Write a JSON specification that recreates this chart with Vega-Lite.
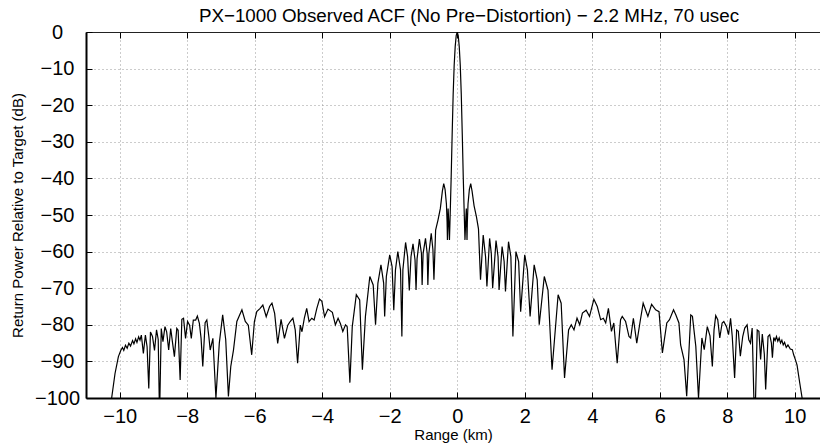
{
  "$schema": "https://vega.github.io/schema/vega-lite/v6.json",
  "width": 734,
  "height": 366,
  "autosize": "none",
  "padding": {"left": 86, "top": 32, "right": 0, "bottom": 48},
  "background": "white",
  "config": {"view": {"stroke": null}, "font": "Liberation Sans"},
  "title": {"text": "PX−1000 Observed ACF (No Pre−Distortion) − 2.2 MHz, 70 usec", "fontSize": 18.8, "font": "Liberation Sans", "fontWeight": "normal", "color": "black", "anchor": "middle", "baseline": "alphabetic", "offset": 9, "dx": 16, "dy": 28},
  "data": {"values": [
    {"r": -10.24, "p": -100}, {"r": -10.14, "p": -93.3}, {"r": -10.04, "p": -88.7}, {"r": -9.97, "p": -87.0}, {"r": -9.92, "p": -86.2}, {"r": -9.88, "p": -87.0}, {"r": -9.83, "p": -85.6}, {"r": -9.78, "p": -86.4}, {"r": -9.73, "p": -85.0}, {"r": -9.68, "p": -85.8}, {"r": -9.62, "p": -84.3}, {"r": -9.58, "p": -85.2}, {"r": -9.53, "p": -83.8}, {"r": -9.49, "p": -84.8}, {"r": -9.44, "p": -83.3}, {"r": -9.40, "p": -84.2}, {"r": -9.36, "p": -82.8}, {"r": -9.30, "p": -87.8}, {"r": -9.24, "p": -82.8}, {"r": -9.19, "p": -86.0}, {"r": -9.14, "p": -97.4}, {"r": -9.09, "p": -82.0}, {"r": -9.03, "p": -83.2}, {"r": -8.97, "p": -87.0}, {"r": -8.91, "p": -81.4}, {"r": -8.86, "p": -84.0}, {"r": -8.83, "p": -100}, {"r": -8.81, "p": -100}, {"r": -8.77, "p": -81.0}, {"r": -8.72, "p": -84.6}, {"r": -8.66, "p": -80.5}, {"r": -8.61, "p": -81.9}, {"r": -8.55, "p": -86.9}, {"r": -8.49, "p": -81.0}, {"r": -8.44, "p": -84.6}, {"r": -8.38, "p": -88.7}, {"r": -8.31, "p": -81.0}, {"r": -8.27, "p": -81.5}, {"r": -8.21, "p": -95.1}, {"r": -8.16, "p": -78.5}, {"r": -8.11, "p": -78.2}, {"r": -8.05, "p": -83.7}, {"r": -7.99, "p": -79.1}, {"r": -7.93, "p": -80.1}, {"r": -7.88, "p": -83.7}, {"r": -7.82, "p": -78.7}, {"r": -7.75, "p": -78.7}, {"r": -7.70, "p": -77.6}, {"r": -7.64, "p": -79.6}, {"r": -7.59, "p": -83.7}, {"r": -7.54, "p": -91.4}, {"r": -7.47, "p": -79.4}, {"r": -7.42, "p": -78.7}, {"r": -7.36, "p": -83.2}, {"r": -7.32, "p": -86.9}, {"r": -7.24, "p": -83.7}, {"r": -7.15, "p": -100}, {"r": -7.05, "p": -85.0}, {"r": -6.95, "p": -77.3}, {"r": -6.86, "p": -84.0}, {"r": -6.78, "p": -99.6}, {"r": -6.71, "p": -91.4}, {"r": -6.63, "p": -86.9}, {"r": -6.53, "p": -79.1}, {"r": -6.38, "p": -75.9}, {"r": -6.28, "p": -79.1}, {"r": -6.19, "p": -80.1}, {"r": -6.09, "p": -88.2}, {"r": -6.01, "p": -79.1}, {"r": -5.94, "p": -76.4}, {"r": -5.84, "p": -75.5}, {"r": -5.76, "p": -74.6}, {"r": -5.66, "p": -77.8}, {"r": -5.56, "p": -75.0}, {"r": -5.49, "p": -74.1}, {"r": -5.41, "p": -76.9}, {"r": -5.32, "p": -85.1}, {"r": -5.22, "p": -78.5}, {"r": -5.12, "p": -83.7}, {"r": -5.02, "p": -80.1}, {"r": -4.95, "p": -79.1}, {"r": -4.87, "p": -78.2}, {"r": -4.80, "p": -81.4}, {"r": -4.73, "p": -90.5}, {"r": -4.65, "p": -80.1}, {"r": -4.60, "p": -81.9}, {"r": -4.53, "p": -78.2}, {"r": -4.46, "p": -75.5}, {"r": -4.39, "p": -79.1}, {"r": -4.31, "p": -78.2}, {"r": -4.24, "p": -78.7}, {"r": -4.16, "p": -75.5}, {"r": -4.08, "p": -73.0}, {"r": -4.01, "p": -73.6}, {"r": -3.93, "p": -77.8}, {"r": -3.83, "p": -75.7}, {"r": -3.70, "p": -76.6}, {"r": -3.61, "p": -80.0}, {"r": -3.53, "p": -78.2}, {"r": -3.46, "p": -79.7}, {"r": -3.39, "p": -81.8}, {"r": -3.31, "p": -80.0}, {"r": -3.26, "p": -80.5}, {"r": -3.18, "p": -95.8}, {"r": -3.11, "p": -80.5}, {"r": -2.99, "p": -71.8}, {"r": -2.89, "p": -73.2}, {"r": -2.81, "p": -92.3}, {"r": -2.72, "p": -77.7}, {"r": -2.59, "p": -66.8}, {"r": -2.49, "p": -69.1}, {"r": -2.42, "p": -80.0}, {"r": -2.35, "p": -68.6}, {"r": -2.26, "p": -63.6}, {"r": -2.18, "p": -68.6}, {"r": -2.15, "p": -77.7}, {"r": -2.10, "p": -66.8}, {"r": -2.00, "p": -60.9}, {"r": -1.93, "p": -64.1}, {"r": -1.88, "p": -76.0}, {"r": -1.83, "p": -65.0}, {"r": -1.76, "p": -60.0}, {"r": -1.68, "p": -65.0}, {"r": -1.64, "p": -83.2}, {"r": -1.61, "p": -65.0}, {"r": -1.53, "p": -57.5}, {"r": -1.47, "p": -61.4}, {"r": -1.42, "p": -70.6}, {"r": -1.37, "p": -61.4}, {"r": -1.31, "p": -57.9}, {"r": -1.25, "p": -62.3}, {"r": -1.22, "p": -70.5}, {"r": -1.19, "p": -62.0}, {"r": -1.12, "p": -56.6}, {"r": -1.06, "p": -60.5}, {"r": -1.04, "p": -69.1}, {"r": -1.01, "p": -60.5}, {"r": -0.94, "p": -56.4}, {"r": -0.89, "p": -60.5}, {"r": -0.87, "p": -69.1}, {"r": -0.84, "p": -60.5}, {"r": -0.77, "p": -55.0}, {"r": -0.72, "p": -59.5}, {"r": -0.69, "p": -67.7}, {"r": -0.64, "p": -54.1}, {"r": -0.57, "p": -51.4}, {"r": -0.50, "p": -48.2}, {"r": -0.44, "p": -43.5}, {"r": -0.40, "p": -41.4}, {"r": -0.36, "p": -43.0}, {"r": -0.32, "p": -47.0}, {"r": -0.30, "p": -52.0}, {"r": -0.29, "p": -56.8}, {"r": -0.27, "p": -48.2}, {"r": -0.25, "p": -52.0}, {"r": -0.23, "p": -56.8}, {"r": -0.20, "p": -47.0}, {"r": -0.18, "p": -40.0}, {"r": -0.15, "p": -28.0}, {"r": -0.12, "p": -17.0}, {"r": -0.09, "p": -9.0}, {"r": -0.06, "p": -4.0}, {"r": -0.03, "p": -1.0}, {"r": 0.0, "p": 0.0},
    {"r": 0.03, "p": -1.0}, {"r": 0.06, "p": -4.0}, {"r": 0.09, "p": -9.0}, {"r": 0.12, "p": -17.0}, {"r": 0.15, "p": -28.0}, {"r": 0.18, "p": -40.0}, {"r": 0.20, "p": -47.0}, {"r": 0.23, "p": -56.8}, {"r": 0.25, "p": -52.0}, {"r": 0.27, "p": -48.2}, {"r": 0.29, "p": -56.8}, {"r": 0.30, "p": -52.0}, {"r": 0.32, "p": -47.0}, {"r": 0.36, "p": -43.0}, {"r": 0.40, "p": -41.4}, {"r": 0.44, "p": -43.5}, {"r": 0.50, "p": -47.5}, {"r": 0.57, "p": -50.5}, {"r": 0.63, "p": -53.8}, {"r": 0.69, "p": -67.7}, {"r": 0.77, "p": -55.5}, {"r": 0.84, "p": -61.4}, {"r": 0.88, "p": -69.5}, {"r": 0.96, "p": -56.4}, {"r": 1.01, "p": -60.5}, {"r": 1.05, "p": -70.0}, {"r": 1.15, "p": -57.0}, {"r": 1.21, "p": -61.4}, {"r": 1.24, "p": -70.5}, {"r": 1.33, "p": -58.6}, {"r": 1.39, "p": -62.7}, {"r": 1.43, "p": -70.9}, {"r": 1.52, "p": -57.3}, {"r": 1.59, "p": -61.4}, {"r": 1.65, "p": -83.2}, {"r": 1.74, "p": -60.0}, {"r": 1.82, "p": -62.7}, {"r": 1.88, "p": -76.4}, {"r": 2.00, "p": -60.9}, {"r": 2.08, "p": -65.0}, {"r": 2.16, "p": -77.7}, {"r": 2.28, "p": -63.6}, {"r": 2.37, "p": -67.7}, {"r": 2.43, "p": -80.0}, {"r": 2.58, "p": -66.8}, {"r": 2.69, "p": -70.5}, {"r": 2.81, "p": -92.3}, {"r": 2.99, "p": -71.8}, {"r": 3.08, "p": -74.1}, {"r": 3.18, "p": -94.5}, {"r": 3.30, "p": -81.4}, {"r": 3.38, "p": -80.0}, {"r": 3.46, "p": -81.4}, {"r": 3.55, "p": -78.2}, {"r": 3.63, "p": -80.0}, {"r": 3.71, "p": -76.8}, {"r": 3.82, "p": -76.0}, {"r": 3.92, "p": -77.7}, {"r": 4.05, "p": -73.0}, {"r": 4.15, "p": -75.0}, {"r": 4.25, "p": -78.6}, {"r": 4.33, "p": -78.2}, {"r": 4.40, "p": -79.5}, {"r": 4.48, "p": -75.5}, {"r": 4.57, "p": -81.8}, {"r": 4.64, "p": -79.5}, {"r": 4.74, "p": -90.5}, {"r": 4.84, "p": -78.6}, {"r": 4.89, "p": -77.7}, {"r": 4.99, "p": -79.1}, {"r": 5.09, "p": -83.2}, {"r": 5.14, "p": -83.6}, {"r": 5.22, "p": -78.2}, {"r": 5.32, "p": -85.0}, {"r": 5.42, "p": -79.1}, {"r": 5.51, "p": -74.1}, {"r": 5.65, "p": -77.7}, {"r": 5.76, "p": -74.4}, {"r": 5.88, "p": -75.9}, {"r": 5.98, "p": -76.4}, {"r": 6.08, "p": -87.7}, {"r": 6.21, "p": -79.5}, {"r": 6.29, "p": -78.6}, {"r": 6.41, "p": -75.9}, {"r": 6.48, "p": -77.3}, {"r": 6.57, "p": -79.5}, {"r": 6.62, "p": -85.5}, {"r": 6.72, "p": -89.5}, {"r": 6.80, "p": -99.5}, {"r": 6.92, "p": -77.3}, {"r": 6.97, "p": -77.7}, {"r": 7.07, "p": -85.9}, {"r": 7.15, "p": -100}, {"r": 7.25, "p": -83.6}, {"r": 7.32, "p": -86.8}, {"r": 7.41, "p": -80.5}, {"r": 7.49, "p": -83.0}, {"r": 7.56, "p": -91.4}, {"r": 7.61, "p": -81.4}, {"r": 7.66, "p": -77.5}, {"r": 7.72, "p": -78.6}, {"r": 7.78, "p": -83.6}, {"r": 7.85, "p": -79.5}, {"r": 7.90, "p": -79.1}, {"r": 7.98, "p": -80.5}, {"r": 8.04, "p": -82.7}, {"r": 8.10, "p": -78.2}, {"r": 8.15, "p": -83.2}, {"r": 8.22, "p": -94.5}, {"r": 8.28, "p": -81.4}, {"r": 8.33, "p": -81.8}, {"r": 8.39, "p": -88.6}, {"r": 8.46, "p": -83.2}, {"r": 8.52, "p": -80.9}, {"r": 8.59, "p": -80.0}, {"r": 8.64, "p": -84.1}, {"r": 8.69, "p": -85.0}, {"r": 8.74, "p": -80.9}, {"r": 8.79, "p": -100}, {"r": 8.84, "p": -100}, {"r": 8.89, "p": -81.4}, {"r": 8.94, "p": -81.8}, {"r": 8.99, "p": -89.5}, {"r": 9.04, "p": -82.5}, {"r": 9.10, "p": -88.0}, {"r": 9.14, "p": -97.7}, {"r": 9.21, "p": -83.2}, {"r": 9.26, "p": -82.7}, {"r": 9.31, "p": -85.0}, {"r": 9.34, "p": -89.0}, {"r": 9.38, "p": -83.5}, {"r": 9.42, "p": -84.3}, {"r": 9.46, "p": -83.2}, {"r": 9.50, "p": -84.5}, {"r": 9.54, "p": -83.6}, {"r": 9.58, "p": -85.0}, {"r": 9.62, "p": -84.2}, {"r": 9.66, "p": -85.5}, {"r": 9.70, "p": -84.8}, {"r": 9.75, "p": -86.2}, {"r": 9.80, "p": -85.5}, {"r": 9.87, "p": -86.6}, {"r": 9.93, "p": -86.8}, {"r": 9.97, "p": -88.2}, {"r": 10.02, "p": -89.5}, {"r": 10.07, "p": -91.0}, {"r": 10.15, "p": -95.9}, {"r": 10.22, "p": -100}
  ]},
  "layer": [
    {
      "mark": {"type": "line", "color": "black", "strokeWidth": 1.2, "clip": true},
      "encoding": {
        "x": {"field": "r", "type": "quantitative",
          "scale": {"domain": [-11, 10.75], "nice": false, "zero": false},
          "axis": {"orient": "bottom", "values": [-10, -8, -6, -4, -2, 0, 2, 4, 6, 8, 10],
            "grid": true, "gridColor": "#999", "gridDash": [1, 3], "gridWidth": 1,
            "domainColor": "black", "domainWidth": 2, "tickColor": "black", "tickSize": -6, "tickWidth": 1,
            "labelFontSize": 20, "labelPadding": 14, "labelColor": "black", "labelFont": "Liberation Sans",
            "labelFlush": false, "labelOverlap": false, "labelBound": false,
            "title": "Range (km)", "titleFontSize": 15, "titleFont": "Liberation Sans", "titleFontWeight": "normal", "titleColor": "black", "titlePadding": 1}},
        "y": {"field": "p", "type": "quantitative",
          "scale": {"domain": [-100, 0], "nice": false, "zero": false},
          "axis": {"orient": "left", "values": [-100, -90, -80, -70, -60, -50, -40, -30, -20, -10, 0],
            "grid": true, "gridColor": "#999", "gridDash": [1, 3], "gridWidth": 1,
            "domainColor": "black", "domainWidth": 2, "tickColor": "black", "tickSize": -6, "tickWidth": 1,
            "labelFontSize": 20, "labelPadding": 35, "labelAlign": "center", "labelBaseline": "middle", "labelColor": "black", "labelFont": "Liberation Sans",
            "labelFlush": false, "labelOverlap": false, "labelBound": false,
            "title": "Return Power Relative to Target (dB)", "titleFontSize": 15, "titleFont": "Liberation Sans", "titleFontWeight": "normal", "titleColor": "black", "titlePadding": 9}}
      }
    },
    {
      "mark": {"type": "line", "strokeOpacity": 0},
      "encoding": {
        "x": {"field": "r", "type": "quantitative",
          "axis": {"orient": "top", "values": [-10, -8, -6, -4, -2, 0, 2, 4, 6, 8, 10], "labels": false, "grid": false, "title": null,
            "domainColor": "#222", "domainWidth": 1, "tickColor": "black", "tickSize": -6, "tickWidth": 1, "minExtent": 0, "maxExtent": 0}},
        "y": {"field": "p", "type": "quantitative",
          "axis": {"orient": "left", "values": [-100, -90, -80, -70, -60, -50, -40, -30, -20, -10, 0],
            "grid": true, "gridColor": "#999", "gridDash": [1, 3], "gridWidth": 1,
            "domainColor": "black", "domainWidth": 2, "tickColor": "black", "tickSize": -6, "tickWidth": 1,
            "labelFontSize": 20, "labelPadding": 35, "labelAlign": "center", "labelBaseline": "middle", "labelColor": "black", "labelFont": "Liberation Sans",
            "labelFlush": false, "labelOverlap": false, "labelBound": false,
            "title": "Return Power Relative to Target (dB)", "titleFontSize": 15, "titleFont": "Liberation Sans", "titleFontWeight": "normal", "titleColor": "black", "titlePadding": 9}}
      }
    }
  ]
}
